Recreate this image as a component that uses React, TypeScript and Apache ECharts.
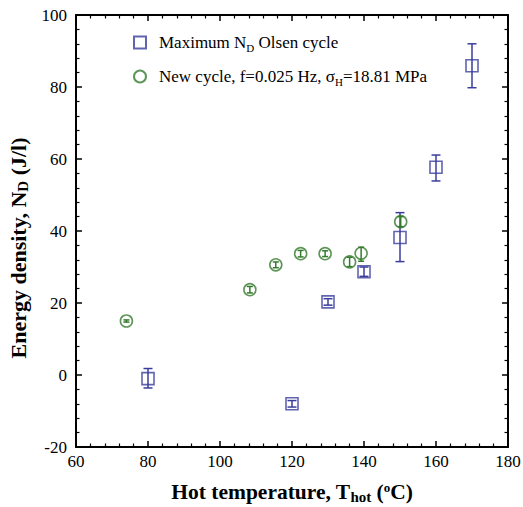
import React, { useEffect, useRef } from "react";
import * as echarts from "echarts";

const xTicks = [60, 80, 100, 120, 140, 160, 180];
const yTicks = [-20, 0, 20, 40, 60, 80, 100];

const olsenT = [80, 120, 130, 140, 150, 160, 170];
const olsenN = [-1.0, -8.0, 20.3, 28.7, 38.2, 57.7, 85.9];
const olsenLow = [-3.6, -8.9, 19.4, 27.4, 31.5, 53.9, 79.8];
const olsenHigh = [1.8, -7.1, 21.2, 30.0, 45.1, 61.1, 92.0];

const newT = [74.0, 108.3, 115.5, 122.4, 129.2, 136.0, 139.2, 150.2];
const newN = [15.0, 23.7, 30.6, 33.7, 33.7, 31.4, 33.8, 42.6];
const newLow = [14.7, 22.8, 29.8, 32.8, 32.9, 30.1, 31.6, 41.2];
const newHigh = [15.3, 24.6, 31.4, 34.6, 34.5, 32.7, 35.5, 44.0];

const seriesNames = [
  "Maximum ND Olsen cycle",
  "New cycle, f=0.025 Hz, σH=18.81 MPa",
];

const BLUE = "#3a3d9c";
const GREEN = "#347a2c";
const FONT = "Liberation Serif";
const TITLE = 22;
const LEG = 17;

function errorBar(color: string, cap: number) {
  return (params: any, api: any) => {
    const x = api.value(0);
    const lo = api.value(1);
    const hi = api.value(2);
    const p1 = api.coord([x, lo]);
    const p2 = api.coord([x, hi]);
    const w = cap / 2;
    const style = { stroke: color, lineWidth: 1.5 };
    return {
      type: "group",
      children: [
        { type: "line", shape: { x1: p1[0], y1: p1[1], x2: p2[0], y2: p2[1] }, style },
        { type: "line", shape: { x1: p1[0] - w, y1: p1[1], x2: p1[0] + w, y2: p1[1] }, style },
        { type: "line", shape: { x1: p2[0] - w, y1: p2[1], x2: p2[0] + w, y2: p2[1] }, style },
      ],
    };
  };
}

export default function App() {
  const ref = useRef<HTMLDivElement>(null);
  useEffect(() => {
    if (!ref.current) return;
    const chart = echarts.init(ref.current, undefined, { renderer: "svg" });
    const axisCommon = {
      interval: 20,
      axisLine: { show: true, onZero: false, lineStyle: { color: "#000", width: 2 } },
      axisTick: { show: true, inside: true, length: 6, lineStyle: { color: "#000", width: 1.5 } },
      minorTick: { show: true, splitNumber: 5, length: 3.5, lineStyle: { color: "#000", width: 1.2 } },
      splitLine: { show: false },
      axisLabel: { color: "#000", fontFamily: FONT, fontSize: 17 },
    };
    const option: any = {
      animation: false,
      backgroundColor: "#fff",
      textStyle: { fontFamily: FONT },
      grid: { left: 76, top: 15, right: 15, bottom: 60, containLabel: false, outerBoundsMode: "none" },
      legend: {
        orient: "vertical",
        left: 128,
        top: 29,
        itemWidth: 12,
        itemHeight: 12,
        itemGap: 15,
        data: seriesNames,
        formatter: (name: string) =>
          name === seriesNames[0]
            ? "{a|Maximum N}{s|D}{a| Olsen cycle}"
            : "{a|New cycle, f=0.025 Hz, σ}{s|H}{a|=18.81 MPa}",
        textStyle: {
          color: "#000",
          fontFamily: FONT,
          fontSize: LEG,
          padding: [0, 0, 0, 8],
          rich: {
            a: { fontFamily: FONT, fontSize: LEG, color: "#000" },
            s: { fontFamily: FONT, fontSize: 11, color: "#000", padding: [10, 0, 0, 0] },
          },
        },
      },
      xAxis: [
        {
          ...axisCommon,
          type: "value",
          min: xTicks[0],
          max: xTicks[xTicks.length - 1],
          position: "bottom",
          axisLabel: { ...axisCommon.axisLabel, margin: 6 },
          name: "{b|Hot temperature, T}{bs|hot}{b| (}{sup|o}{b|C)}",
          nameLocation: "middle",
          nameGap: 32,
          nameTextStyle: {
            color: "#000",
            fontFamily: FONT,
            fontWeight: "bold",
            fontSize: 21.5,
            rich: {
              b: { fontFamily: FONT, fontWeight: "bold", fontSize: 21.5, color: "#000" },
              bs: { fontFamily: FONT, fontWeight: "bold", fontSize: 15, color: "#000", padding: [10, 0, 0, 0] },
              sup: { fontFamily: FONT, fontWeight: "bold", fontSize: 13, color: "#000", padding: [0, 0, 9, 0] },
            },
          },
        },
        {
          ...axisCommon,
          type: "value",
          min: xTicks[0],
          max: xTicks[xTicks.length - 1],
          position: "top",
          axisLabel: { show: false },
        },
      ],
      yAxis: [
        {
          ...axisCommon,
          type: "value",
          min: yTicks[0],
          max: yTicks[yTicks.length - 1],
          position: "left",
          axisLabel: { ...axisCommon.axisLabel, margin: 9 },
          name: "{b|Energy density, N}{bs|D}{b| (J/l)}{gap| }",
          nameLocation: "middle",
          nameGap: 32,
          nameTextStyle: {
            color: "#000",
            fontFamily: FONT,
            fontWeight: "bold",
            fontSize: TITLE,
            rich: {
              b: { fontFamily: FONT, fontWeight: "bold", fontSize: TITLE, color: "#000" },
              bs: { fontFamily: FONT, fontWeight: "bold", fontSize: 15, color: "#000", padding: [10, 0, 0, 0] },
              gap: { fontFamily: FONT, fontSize: TITLE, width: 34, color: "#000" },
            },
          },
        },
        {
          ...axisCommon,
          type: "value",
          min: yTicks[0],
          max: yTicks[yTicks.length - 1],
          position: "right",
          axisLabel: { show: false },
        },
      ],
      series: [
        {
          name: seriesNames[0],
          type: "scatter",
          symbol: "rect",
          symbolSize: 12,
          itemStyle: { color: "rgba(255,255,255,0)", borderColor: BLUE, borderWidth: 1.6 },
          data: olsenT.map((t, i) => [t, olsenN[i]]),
          z: 3,
        },
        {
          name: seriesNames[1],
          type: "scatter",
          symbol: "circle",
          symbolSize: 12,
          itemStyle: { color: "rgba(255,255,255,0)", borderColor: GREEN, borderWidth: 1.6 },
          data: newT.map((t, i) => [t, newN[i]]),
          z: 3,
        },
        {
          type: "custom",
          name: "olsenErr",
          renderItem: errorBar(BLUE, 9),
          encode: { x: 0, y: [1, 2] },
          data: olsenT.map((t, i) => [t, olsenLow[i], olsenHigh[i]]),
          z: 2,
        },
        {
          type: "custom",
          name: "newErr",
          renderItem: errorBar(GREEN, 6),
          encode: { x: 0, y: [1, 2] },
          data: newT.map((t, i) => [t, newLow[i], newHigh[i]]),
          z: 2,
        },
      ],
    };
    chart.setOption(option);
    return () => chart.dispose();
  }, []);
  return (
    <div
      ref={ref}
      style={{ position: "fixed", left: 0, top: 0, width: 523, height: 507, background: "#fff" }}
    />
  );
}
